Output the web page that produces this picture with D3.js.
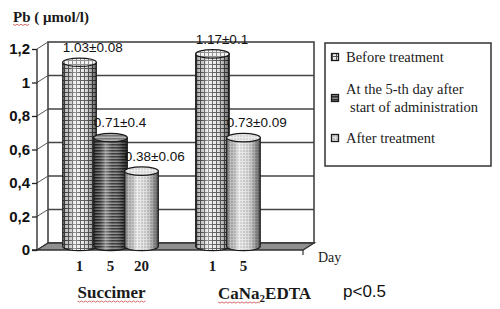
<!DOCTYPE html>
<html>
<head>
<meta charset="utf-8">
<script src="https://cdn.jsdelivr.net/npm/d3@7"></script>
<style>
  body { margin: 0; background: #fff; }
  svg { display: block; }
</style>
</head>
<body>
<svg id="chart" width="500" height="309"></svg>
<script>
// chart values
const groups = ["Succimer", "CaNa2EDTA"];
const days = ["1", "5", "20"];
const seriesNames = ["Before treatment", "At the 5-th day after|start of administration", "After treatment"];
const succimerDays = ["1", "5", "20"];
const succimerValues = [1.10, 0.65, 0.45];
const succimerSeries = [0, 1, 2];
const succimerLabels = ["1.03±0.08", "0.71±0.4", "0.38±0.06"];
const edtaDays = ["1", "5"];
const edtaValues = [1.15, 0.65];
const edtaSeries = [0, 2];
const edtaLabels = ["1.17±0.1", "0.73±0.09"];
const yTicks = [0, 0.2, 0.4, 0.6, 0.8, 1, 1.2];
const yTickLabels = ["0", "0,2", "0,4", "0,6", "0,8", "1", "1,2"];

const rows = [];
succimerDays.forEach((d, i) => rows.push({group: groups[0], day: d, value: succimerValues[i], series: succimerSeries[i], label: succimerLabels[i]}));
edtaDays.forEach((d, i) => rows.push({group: groups[1], day: d, value: edtaValues[i], series: edtaSeries[i], label: edtaLabels[i]}));

const svg = d3.select("#chart");
const defs = svg.append("defs");

// 3d box geometry
const axisX = 37, depthX = 11, depthY = -7;
const wallRight = 314;

const yF = d3.scaleLinear().domain([0, 1.2]).range([250, 49]);   // front edge (axis)
const yB = v => yF(v) + depthY;                                  // back wall
const yM = v => yF(v) + depthY / 2;                              // middle, where the cylinders stand

const xGroup = d3.scaleBand().domain(groups).range([64, 290]).paddingInner(0.3);
const xDay = d3.scaleBand().domain(days).range([0, xGroup.bandwidth()]);

// ---- patterns
const pGrid = defs.append("pattern").attr("id", "p0").attr("patternUnits", "userSpaceOnUse")
  .attr("width", 4).attr("height", 4);
pGrid.append("rect").attr("width", 4).attr("height", 4).attr("fill", "#ececec");
pGrid.append("path").attr("d", "M0,0.5H4M0.5,0V4").attr("stroke", "#555").attr("stroke-width", 1);

const pLines = defs.append("pattern").attr("id", "p1").attr("patternUnits", "userSpaceOnUse")
  .attr("width", 4).attr("height", 3);
pLines.append("rect").attr("width", 4).attr("height", 3).attr("fill", "#8a8a8a");
pLines.append("path").attr("d", "M0,0.8H4").attr("stroke", "#1e1e1e").attr("stroke-width", 1.3);

const pDots = defs.append("pattern").attr("id", "p2").attr("patternUnits", "userSpaceOnUse")
  .attr("width", 3).attr("height", 3);
pDots.append("rect").attr("width", 3).attr("height", 3).attr("fill", "#e2e2e2");
pDots.append("circle").attr("cx", 1).attr("cy", 1).attr("r", 0.7).attr("fill", "#888");

// cylinder shading
const shade = defs.append("linearGradient").attr("id", "shade").attr("x1", 0).attr("x2", 1).attr("y1", 0).attr("y2", 0);
[[0, "#000", 0.45], [0.12, "#000", 0.15], [0.35, "#fff", 0.4], [0.55, "#fff", 0.05], [0.85, "#000", 0.3], [1, "#000", 0.6]]
  .forEach(s => shade.append("stop").attr("offset", s[0]).attr("stop-color", s[1]).attr("stop-opacity", s[2]));

// ---- walls and floor
const box = svg.append("g");
box.append("rect")
  .attr("x", axisX + depthX).attr("y", yB(1.2))
  .attr("width", wallRight - axisX - depthX).attr("height", yB(0) - yB(1.2))
  .attr("fill", "#fff").attr("stroke", "#444").attr("stroke-width", 1.6);

box.selectAll(".grid").data(yTicks.filter(t => t > 0 && t < 1.2)).join("line")
  .attr("class", "grid")
  .attr("x1", axisX + depthX).attr("x2", wallRight)
  .attr("y1", d => yB(d)).attr("y2", d => yB(d))
  .attr("stroke", "#444").attr("stroke-width", 1.4);

// side wall lines
box.selectAll(".side").data(yTicks).join("line")
  .attr("class", "side")
  .attr("x1", axisX).attr("x2", axisX + depthX)
  .attr("y1", d => yF(d)).attr("y2", d => yB(d))
  .attr("stroke", "#555").attr("stroke-width", 1);

// floor
const floorRight = wallRight - depthX;
box.append("path")
  .attr("d", `M${axisX},${yF(0)}L${axisX + depthX},${yB(0)}L${wallRight},${yB(0)}L${floorRight},${yF(0)}Z`)
  .attr("fill", "#8f8f8f").attr("stroke", "#333").attr("stroke-width", 1.4);
box.append("line")
  .attr("x1", floorRight).attr("x2", floorRight).attr("y1", yF(0)).attr("y2", yF(0) + 5)
  .attr("stroke", "#333").attr("stroke-width", 1.2);

// ---- y axis
const yAxis = d3.axisLeft(yF).tickValues(yTicks).tickFormat((d, i) => yTickLabels[i]).tickSize(5).tickPadding(2);
const ax = svg.append("g").attr("transform", `translate(${axisX},0)`).call(yAxis);
ax.select(".domain").attr("stroke", "#222").attr("stroke-width", 1.3).attr("d", `M-5,${yF(0)}H0V${yF(1.2)}`);
ax.selectAll(".tick line").attr("stroke", "#222").attr("stroke-width", 1.3);
ax.selectAll(".tick text")
  .attr("font-family", "Liberation Sans, Arial, sans-serif")
  .attr("font-weight", "bold").attr("font-size", 15).attr("fill", "#111");

// ---- cylinders
const bw = xDay.bandwidth() * 1.08;
const ry = 4.2;
const barG = svg.append("g");
rows.forEach(r => {
  const x0 = xGroup(r.group) + xDay(r.day) + xDay.bandwidth() / 2 - bw / 2;
  const top = yM(r.value), bot = yM(0);
  const rx = bw / 2;
  const body = `M${x0},${top}L${x0},${bot}A${rx},${ry} 0 0 0 ${x0 + bw},${bot}L${x0 + bw},${top}Z`;
  const g = barG.append("g");
  g.append("path").attr("d", body).attr("fill", `url(#p${r.series})`);
  g.append("path").attr("d", body).attr("fill", "url(#shade)")
    .attr("stroke", "#1a1a1a").attr("stroke-width", 1.2);
  g.append("ellipse").attr("cx", x0 + rx).attr("cy", top).attr("rx", rx).attr("ry", ry)
    .attr("fill", `url(#p${r.series})`);
  g.append("ellipse").attr("cx", x0 + rx).attr("cy", top).attr("rx", rx).attr("ry", ry)
    .attr("fill", "#fff").attr("fill-opacity", 0.35)
    .attr("stroke", "#1a1a1a").attr("stroke-width", 1.2);

  svg.append("text")
    .attr("x", x0).attr("y", top - 15).attr("dy", "0.35em")
    .attr("font-family", "Liberation Sans, Arial, sans-serif").attr("font-size", 13.5)
    .attr("fill", "#111").text(r.label);

  svg.append("text")
    .attr("x", x0 + rx).attr("y", 266).attr("dy", "0.35em").attr("text-anchor", "middle")
    .attr("font-family", "Liberation Serif, Times New Roman, serif").attr("font-weight", "bold")
    .attr("font-size", 15).attr("fill", "#1a1a1a").text(r.day);
});

// ---- texts
const serif = "Liberation Serif, Times New Roman, serif";

function squiggle(node) {
  const b = node.getBBox();
  const pts = [];
  for (let x = b.x; x <= b.x + b.width; x += 2) pts.push([x, b.y + b.height - 1 + ((pts.length % 2) ? 1.2 : 0)]);
  svg.append("path").attr("d", d3.line()(pts)).attr("fill", "none")
    .attr("stroke", "#d06060").attr("stroke-width", 0.9);
}

const title = svg.append("text").attr("x", 13).attr("y", 17).attr("dy", "0.35em")
  .attr("font-family", serif).attr("font-weight", "bold").attr("font-size", 15).attr("fill", "#1a1a1a");
const pb = title.append("tspan").text("Pb");
title.append("tspan").text(" ( μmol/l)");
squiggle(pb.node());

svg.append("text").attr("x", 318).attr("y", 257).attr("dy", "0.35em")
  .attr("font-family", serif).attr("font-size", 14).attr("fill", "#1a1a1a").text("Day");

const gLab1 = svg.append("text").attr("x", xGroup(groups[0]) + xGroup.bandwidth() / 2 + 1).attr("y", 292).attr("dy", "0.35em")
  .attr("text-anchor", "middle").attr("font-family", serif).attr("font-weight", "bold").attr("font-size", 17)
  .attr("fill", "#1a1a1a").text("Succimer");
squiggle(gLab1.node());

const gLab2 = svg.append("text").attr("x", 218).attr("y", 293).attr("dy", "0.35em")
  .attr("font-family", serif).attr("font-weight", "bold").attr("font-size", 17).attr("fill", "#1a1a1a");
const ca = gLab2.append("tspan").text("CaNa");
gLab2.append("tspan").attr("font-size", 11).attr("dy", 3).text("2");
gLab2.append("tspan").attr("dy", -3).text("EDTA");
squiggle(ca.node());

svg.append("text").attr("x", 343).attr("y", 291).attr("dy", "0.35em")
  .attr("font-family", "Liberation Sans, Arial, sans-serif").attr("font-size", 17).attr("fill", "#111")
  .text("p<0.5");

// ---- legend
const leg = svg.append("g");
leg.append("rect").attr("x", 325).attr("y", 43).attr("width", 166).attr("height", 123)
  .attr("fill", "#fff").attr("stroke", "#333").attr("stroke-width", 1.5);
const legY = [57, 98, 138];
seriesNames.forEach((name, i) => {
  leg.append("rect").attr("x", 331.5).attr("y", legY[i] - 3.5).attr("width", 7).attr("height", 7)
    .attr("fill", `url(#p${i})`).attr("stroke", "#1a1a1a").attr("stroke-width", 1.3);
  const lines = name.split("|");
  lines.forEach((ln, j) => {
    leg.append("text")
      .attr("x", j === 0 ? 346 : 350)
      .attr("y", legY[i] + (j - (lines.length - 1) / 2) * 18).attr("dy", "0.35em")
      .attr("font-family", serif).attr("font-size", 14.5).attr("fill", "#1a1a1a").text(ln);
  });
});
</script>
</body>
</html>
